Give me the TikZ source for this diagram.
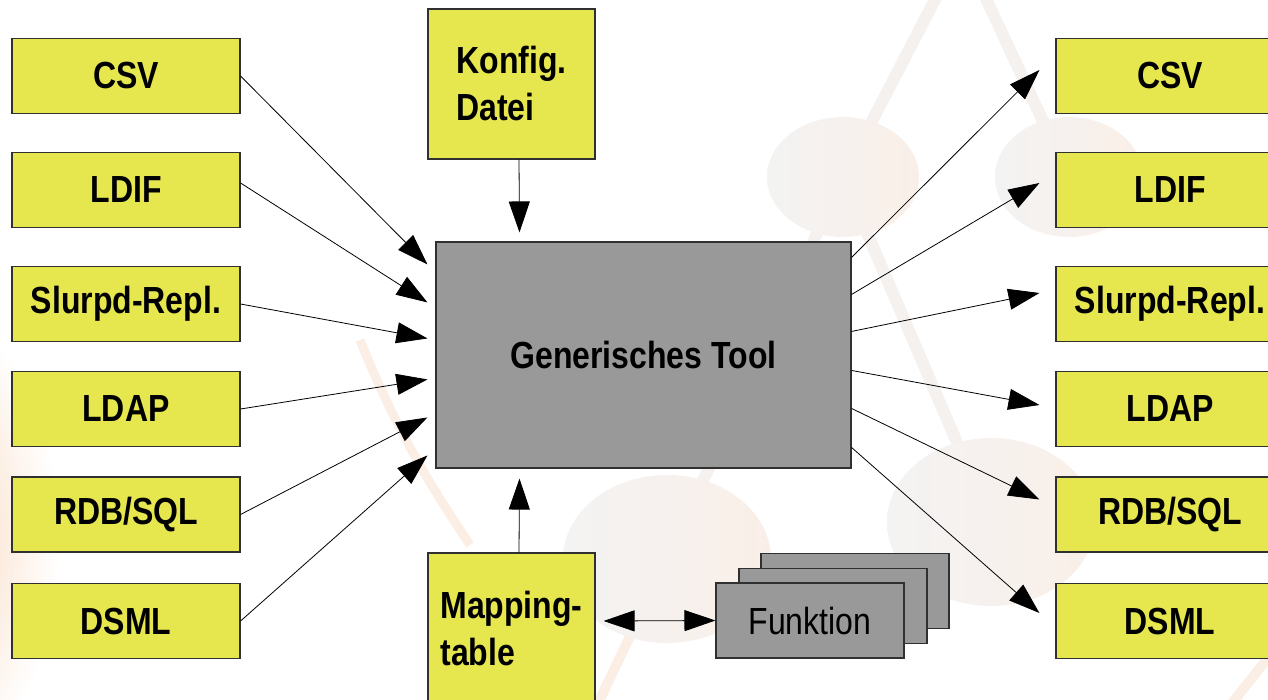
\documentclass[tikz,border=0pt]{standalone}
\usepackage{fontspec}
\setmainfont{Liberation Sans}
\usetikzlibrary{arrows.meta,calc}

\definecolor{boxyellow}{HTML}{E6E64E}
\definecolor{toolgray}{HTML}{999999}
\definecolor{edgegray}{HTML}{303030}
\definecolor{wmgray}{HTML}{F3F3F3}
\definecolor{wmpeach}{HTML}{FAEFE8}
\definecolor{wmline}{HTML}{F4F1EF}
\definecolor{wmarc}{HTML}{FBEEE5}
\definecolor{wmorange}{HTML}{F7D2B4}

% slightly tall lettering
\newcommand\tall[1]{\scalebox{1}[1.18]{#1}}

\begin{document}
\begin{tikzpicture}[x=1pt,y=-1pt,
  box/.style={draw=edgegray, line width=1.1pt, inner sep=0pt,
    font=\bfseries\fontsize{32}{47}\selectfont},
  fmt/.style={box, fill=boxyellow, minimum width=228pt, minimum height=75pt},
  sidebox/.style={box, fill=boxyellow, minimum width=167pt, minimum height=150pt, align=left},
  toolbox/.style={box, fill=toolgray, minimum width=415pt, minimum height=226pt},
  funcbox/.style={box, fill=toolgray, minimum width=188pt, minimum height=75pt,
    font=\mdseries\fontsize{32}{40}\selectfont},
  flow/.style={line width=0.8pt, -{Triangle[length=31pt,width=21pt]}},
  both/.style={line width=0.8pt, {Triangle[length=31pt,width=21pt]}-{Triangle[length=31pt,width=21pt]}},
  wmstroke/.style={draw=wmline, line width=12pt},
]
\useasboundingbox (0,0) rectangle (1268,700);
\clip (0,0) rectangle (1268,700);

% ---- faint background emblem ----
\shade[inner color=wmorange, outer color=white] (-80,540) ellipse [x radius=140, y radius=240];
\draw[draw=wmarc, line width=9pt] (360,340) .. controls (400,440) and (440,500) .. (470,545);
\draw[wmstroke] (940,-10) -- (843,177);
\draw[wmstroke] (982,-10) -- (1069,177);
\draw[wmstroke] (843,177) -- (991,522);
\draw[wmstroke] (843,177) -- (667,559);
\draw[draw=wmarc, line width=10pt] (667,559) -- (590,720);
\draw[draw=wmarc, line width=10pt] (1225,712) -- (1290,630);
\foreach \cx/\cy/\rx/\ry in {843/177/76/60, 1069/177/74/60, 667/559/104/84, 991/522/104/84}{
  \shade[left color=wmgray, right color=wmpeach] (\cx,\cy) ellipse [x radius=\rx, y radius=\ry];
}

% ---- source formats ----
\node[fmt] (lcsv)  at (126,76)    {\tall{CSV}};
\node[fmt] (lldif) at (126,190)   {\tall{LDIF}};
\node[fmt] (lslur) at (126,304)   {\tall{Slurpd-Repl.}};
\node[fmt] (lldap) at (126,409)   {\tall{LDAP}};
\node[fmt] (lrdb)  at (126,514.5) {\tall{RDB/SQL}};
\node[fmt] (ldsml) at (126,621)   {\tall{DSML}};

% ---- target formats ----
\node[fmt] (rcsv)  at (1170,76)    {\tall{CSV}};
\node[fmt] (rldif) at (1170,190)   {\tall{LDIF}};
\node[fmt] (rslur) at (1170,304)   {\tall{Slurpd-Repl.}};
\node[fmt] (rldap) at (1170,409)   {\tall{LDAP}};
\node[fmt] (rrdb)  at (1170,514.5) {\tall{RDB/SQL}};
\node[fmt] (rdsml) at (1170,621)   {\tall{DSML}};

% ---- central tool and its inputs ----
\node[toolbox] (tool) at (643.5,355) {\tall{Generisches Tool}};
\node[sidebox] (konf) at (511.5,84) {\tall{Konfig.}\\\tall{Datei}};
\node[sidebox] (map)  at (511.5,628) {\tall{Mapping-}\\\tall{table}};

% ---- stacked function boxes ----
\node[funcbox] (fun3) at (855,591) {};
\node[funcbox] (fun2) at (833,606) {};
\node[funcbox] (fun1) at (810,620.5) {\tall{Funktion}};

% ---- inbound connectors ----
\draw[flow] (lcsv.east)  -- ($(tool.north west)+(-8,23)$);
\draw[flow] ($(lldif.east)+(0,-7)$) -- ($(tool.north west)+(-8,61)$);
\draw[flow] (lslur.east) -- ($(tool.north west)+(-8,97)$);
\draw[flow] (lldap.east) -- ($(tool.north west)+(-8,138)$);
\draw[flow] (lrdb.east)  -- ($(tool.north west)+(-8,176)$);
\draw[flow] (ldsml.east) -- ($(tool.north west)+(-8,214)$);

% ---- outbound connectors ----
\draw[flow] ($(tool.north east)+(0,16)$)  -- ($(rcsv.west)+(-16,-6)$);
\draw[flow] ($(tool.north east)+(0,53)$)  -- ($(rldif.west)+(-16,-7)$);
\draw[flow] ($(tool.north east)+(0,90)$)  -- ($(rslur.west)+(-16,-11)$);
\draw[flow] ($(tool.north east)+(0,129)$) -- ($(rldap.west)+(-16,-4)$);
\draw[flow] ($(tool.north east)+(0,167)$) -- ($(rrdb.west)+(-16,-15)$);
\draw[flow] ($(tool.north east)+(0,206)$) -- ($(rdsml.west)+(-16,-8)$);

% ---- configuration and mapping ----
\draw[flow] ($(konf.south)+(7.5,0)$) -- ($(tool.north)+(-124,-9)$);
\draw[flow] ($(map.north)+(7.5,0)$)  -- ($(tool.south)+(-124,10)$);
\draw[both] ($(map.east)+(8,-7)$) -- (fun1.west);
\end{tikzpicture}
\end{document}
